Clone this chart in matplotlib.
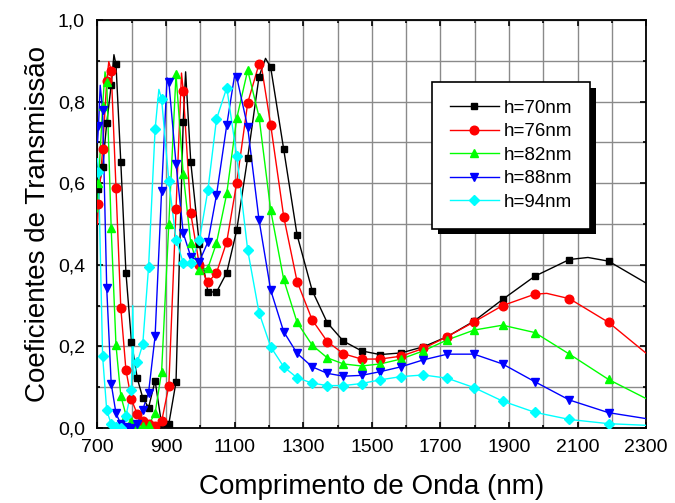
import numpy as np
import matplotlib
matplotlib.use("Agg")
import matplotlib.pyplot as plt
import matplotlib.patheffects as pe
from matplotlib.ticker import MultipleLocator, FixedLocator

plt.rcParams['font.family'] = ['Liberation Sans', 'DejaVu Sans']

# wavelengths (nm) where the markers sit
X_MK = [703, 715, 727, 740, 754, 768, 783, 799, 816, 832, 849, 868, 887, 908, 929, 950,
        972, 997, 1022, 1047, 1077, 1106, 1138, 1171, 1205, 1243, 1282, 1326, 1370, 1417,
        1470, 1524, 1585, 1650, 1720, 1798, 1881, 1975, 2076, 2190]

# h=70nm
x70 = [700, 703, 715, 727, 740, 748, 754, 768, 783, 799, 816, 832, 849, 868, 887, 908, 929,
       950, 957, 972, 997, 1022, 1047, 1077, 1106, 1138, 1171, 1190, 1205, 1243, 1282, 1326,
       1370, 1417, 1470, 1524, 1585, 1650, 1720, 1798, 1881, 1975, 2076, 2130, 2190, 2300]
y70 = [0.56, 0.587, 0.639, 0.748, 0.84, 0.915, 0.891, 0.652, 0.381, 0.212, 0.122, 0.074,
       0.050, 0.116, 0.009, 0.010, 0.113, 0.751, 0.873, 0.652, 0.45, 0.334, 0.333, 0.381,
       0.485, 0.663, 0.861, 0.906, 0.884, 0.683, 0.473, 0.337, 0.258, 0.213, 0.189, 0.180,
       0.184, 0.199, 0.224, 0.262, 0.315, 0.372, 0.413, 0.418, 0.409, 0.355]

# h=76nm
x76 = [700, 703, 715, 727, 733, 740, 754, 768, 783, 799, 816, 832, 849, 868, 887, 908, 929,
       945, 950, 972, 997, 1022, 1047, 1077, 1106, 1138, 1171, 1176, 1205, 1243, 1282, 1326,
       1370, 1417, 1470, 1524, 1585, 1650, 1720, 1798, 1881, 1975, 2010, 2076, 2190, 2300]
y76 = [0.50, 0.55, 0.683, 0.85, 0.898, 0.876, 0.589, 0.295, 0.142, 0.070, 0.034, 0.016,
       0.010, 0.004, 0.016, 0.103, 0.536, 0.87, 0.827, 0.526, 0.40, 0.357, 0.380, 0.457,
       0.601, 0.797, 0.892, 0.897, 0.743, 0.518, 0.359, 0.265, 0.212, 0.182, 0.169, 0.169,
       0.176, 0.195, 0.224, 0.260, 0.300, 0.328, 0.330, 0.317, 0.259, 0.183]

# h=82nm
x82 = [700, 703, 715, 722, 727, 740, 754, 768, 783, 799, 816, 832, 849, 868, 887, 908, 929,
       950, 972, 997, 1022, 1047, 1077, 1106, 1138, 1171, 1205, 1243, 1282, 1326, 1370, 1417,
       1470, 1524, 1585, 1650, 1720, 1798, 1881, 1975, 2076, 2190, 2300]
y82 = [0.53, 0.60, 0.789, 0.873, 0.848, 0.489, 0.203, 0.079, 0.032, 0.016, 0.008, 0.005,
       0.008, 0.036, 0.138, 0.500, 0.867, 0.623, 0.453, 0.387, 0.392, 0.453, 0.575, 0.759,
       0.877, 0.763, 0.534, 0.364, 0.259, 0.203, 0.172, 0.157, 0.152, 0.157, 0.169, 0.189,
       0.216, 0.240, 0.252, 0.234, 0.181, 0.119, 0.072]

# h=88nm
x88 = [700, 703, 708, 715, 727, 740, 754, 768, 783, 799, 816, 832, 849, 868, 887, 903, 908,
       929, 950, 972, 997, 1022, 1047, 1077, 1100, 1106, 1138, 1171, 1205, 1243, 1282, 1326,
       1370, 1417, 1470, 1524, 1585, 1650, 1720, 1798, 1881, 1975, 2076, 2190, 2300]
y88 = [0.70, 0.74, 0.84, 0.779, 0.342, 0.109, 0.036, 0.010, 0.003, 0.001, 0.010, 0.045,
       0.087, 0.225, 0.582, 0.858, 0.849, 0.648, 0.478, 0.420, 0.408, 0.456, 0.571, 0.743,
       0.865, 0.860, 0.737, 0.510, 0.338, 0.236, 0.183, 0.150, 0.134, 0.127, 0.129, 0.138,
       0.150, 0.167, 0.181, 0.181, 0.157, 0.1135, 0.0686, 0.0376, 0.023]

# h=94nm
x94 = [700, 703, 715, 727, 740, 754, 768, 783, 799, 803, 806, 816, 832, 849, 868, 879, 887,
       908, 929, 950, 972, 997, 1022, 1047, 1077, 1106, 1138, 1171, 1205, 1243, 1282, 1326,
       1370, 1417, 1470, 1524, 1585, 1650, 1720, 1798, 1881, 1975, 2076, 2190, 2300]
y94 = [0.66, 0.628, 0.176, 0.043, 0.010, 0.003, 0.001, 0.030, 0.092, 0.30, 0.12, 0.161,
       0.205, 0.395, 0.732, 0.830, 0.806, 0.606, 0.462, 0.405, 0.405, 0.460, 0.583, 0.757,
       0.834, 0.667, 0.436, 0.283, 0.199, 0.150, 0.123, 0.110, 0.104, 0.104, 0.109, 0.118,
       0.126, 0.130, 0.122, 0.099, 0.066, 0.0385, 0.021, 0.0106, 0.0066]

labels = ['h=70nm', 'h=76nm', 'h=82nm', 'h=88nm', 'h=94nm']
colors = ['#000000', '#ff0000', '#00ff00', '#0000ff', '#00ffff']
markers = ['s', 'o', '^', 'v', 'D']
msizes = [5.0, 6.2, 6.2, 6.2, 4.8]

x_ticks = [700, 900, 1100, 1300, 1500, 1700, 1900, 2100, 2300]
y_ticks = [0.0, 0.2, 0.4, 0.6, 0.8, 1.0]
y_ticklabels = ['0,0', '0,2', '0,4', '0,6', '0,8', '1,0']

series = [(x70, y70), (x76, y76), (x82, y82), (x88, y88), (x94, y94)]

fig = plt.figure(figsize=(6.75, 5.03), dpi=100)
ax = fig.add_axes([0.1444, 0.1491, 0.8130, 0.8111])

for (xs, ys), lab, c, m, ms in zip(series, labels, colors, markers, msizes):
    xs = np.array(xs)
    ys = np.array(ys)
    on = np.isin(xs, X_MK)
    ax.plot(xs, ys, '-', color=c, lw=1.0, zorder=3)
    ax.plot(xs[on], ys[on], ls='none', marker=m, color=c, ms=ms, mec=c, zorder=4)
    # legend proxy
    ax.plot([], [], '-', color=c, lw=1.0, marker=m, ms=ms, label=lab)

ax.set_xlim(700, 2300)
ax.set_ylim(0, 1.0)
ax.xaxis.set_major_locator(FixedLocator(x_ticks))
ax.xaxis.set_minor_locator(MultipleLocator(100))
ax.yaxis.set_major_locator(FixedLocator(y_ticks))
ax.yaxis.set_minor_locator(MultipleLocator(0.1))
ax.set_yticklabels(y_ticklabels)

ax.grid(True, which='both', color='#8a8a8a', lw=1.0, zorder=0)
ax.set_axisbelow(True)
ax.tick_params(which='both', direction='in', top=True, right=True, width=1.2)
ax.tick_params(which='major', length=4.5, labelsize=14)
ax.tick_params(axis='x', which='major', pad=8)
ax.tick_params(axis='y', which='major', pad=9)
ax.tick_params(which='minor', length=2.5)
for s in ax.spines.values():
    s.set_linewidth(1.3)

ax.set_xlabel('Comprimento de Onda (nm)', fontsize=20, labelpad=13)
ax.set_ylabel('Coeficientes de Transmissão', fontsize=20, labelpad=5)

leg = ax.legend(loc='upper left', bbox_to_anchor=(0.6095, 0.848), borderaxespad=0,
                fontsize=13.5, frameon=True, fancybox=False, handlelength=2.6,
                handletextpad=0.27, labelspacing=0.34, borderpad=0.95)
fr = leg.get_frame()
fr.set_edgecolor('black')
fr.set_linewidth(1.2)
fr.set_alpha(1)
fr.set_path_effects([pe.SimplePatchShadow(offset=(4.5, -4), shadow_rgbFace='k', alpha=1),
                     pe.Normal()])

fig.savefig('out.png', dpi=100)
